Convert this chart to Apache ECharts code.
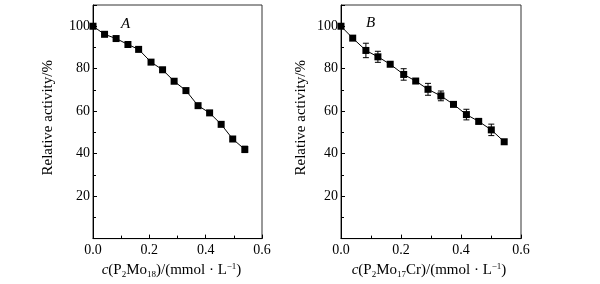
<!DOCTYPE html>
<html>
<head>
<meta charset="utf-8">
<script src="https://cdn.jsdelivr.net/npm/echarts@6/dist/echarts.min.js"></script>
<style>
html, body { margin: 0; padding: 0; background: #fff; }
#chart { width: 600px; height: 284px; }
</style>
</head>
<body>
<div id="chart"></div>
<script>
// panel A: P2Mo18
var xA = [0, 0.041, 0.082, 0.124, 0.162, 0.206, 0.247, 0.288, 0.330, 0.373, 0.414, 0.455, 0.496, 0.539];
var yA = [100, 96.2, 94.2, 91.4, 89.1, 83.1, 79.5, 74.1, 69.7, 62.6, 59.2, 53.8, 46.9, 42.0];
var errA = [0, 0, 0, 0, 0, 0, 0, 0, 0, 0, 0, 0, 0, 1.5];
// panel B: P2Mo17Cr
var xB = [0, 0.039, 0.083, 0.123, 0.164, 0.209, 0.249, 0.290, 0.333, 0.375, 0.418, 0.459, 0.501, 0.544];
var yB = [100, 94.4, 88.6, 85.6, 82.1, 77.3, 74.2, 70.3, 67.2, 63.2, 58.4, 55.2, 51.2, 45.6];
var errB = [0, 0, 3.4, 2.6, 0, 2.7, 0, 2.8, 2.3, 0, 2.5, 1.2, 2.7, 0];

var yTicks = [20, 40, 60, 80, 100];
var xTicks = [0, 0.2, 0.4, 0.6];

var chart = echarts.init(document.getElementById('chart'));
var font = 'Liberation Serif';

function pairs(xs, ys) {
    return xs.map(function(x, i) { return [x, ys[i]]; });
}
function errData(xs, ys, es) {
    return xs.map(function(x, i) { return [x, ys[i], es[i]]; });
}

function errItem(params, api) {
    var e = api.value(2);
    if (!e) return null;
    var x = api.value(0), y = api.value(1);
    var hi = api.coord([x, y + e]);
    var lo = api.coord([x, y - e]);
    var w = 3;
    var st = { stroke: '#000', lineWidth: 1 };
    return {
        type: 'group',
        children: [
            { type: 'line', shape: { x1: hi[0], y1: hi[1], x2: lo[0], y2: lo[1] }, style: st },
            { type: 'line', shape: { x1: hi[0] - w, y1: hi[1], x2: hi[0] + w, y2: hi[1] }, style: st },
            { type: 'line', shape: { x1: lo[0] - w, y1: lo[1], x2: lo[0] + w, y2: lo[1] }, style: st }
        ]
    };
}

function xAxisOf(idx, name, pad) {
    return {
        type: 'value', gridIndex: idx, min: 0, max: 0.6, interval: 0.2,
        name: name, nameLocation: 'middle', nameGap: 20,
        nameTextStyle: {
            fontFamily: font, fontSize: 15, color: '#000', padding: pad,
            rich: {
                i: { fontFamily: font, fontSize: 15, fontStyle: 'italic', color: '#000' },
                n: { fontFamily: font, fontSize: 15, color: '#000' },
                sub: { fontFamily: font, fontSize: 9, color: '#000', padding: [8, 0, 0, 0] },
                sup: { fontFamily: font, fontSize: 9, color: '#000', padding: [0, 0, 7, 0] }
            }
        },
        axisLine: { onZero: false, lineStyle: { color: '#000', width: 1 } },
        axisTick: { inside: true, length: 4, lineStyle: { color: '#000' } },
        minorTick: { show: true, splitNumber: 2, length: 3, lineStyle: { color: '#000' } },
        splitLine: { show: false },
        axisLabel: {
            fontFamily: font, fontSize: 14, color: '#000', margin: 5,
            formatter: function(v) {
                return xTicks.some(function(t) { return Math.abs(t - v) < 1e-9; }) ? v.toFixed(1) : '';
            }
        }
    };
}

function yAxisOf(idx, gap) {
    return {
        type: 'value', gridIndex: idx, min: 0, max: 110, interval: 20,
        name: 'Relative activity/%', nameLocation: 'middle', nameGap: gap,
        nameTextStyle: { fontFamily: font, fontSize: 15, color: '#000', padding: [0, 0, 0, 8] },
        axisLine: { onZero: false, lineStyle: { color: '#000', width: 1 } },
        axisTick: { inside: true, length: 4, lineStyle: { color: '#000' } },
        minorTick: { show: true, splitNumber: 2, length: 3, lineStyle: { color: '#000' } },
        splitLine: { show: false },
        axisLabel: {
            fontFamily: font, fontSize: 14, color: '#000', margin: 3,
            showMaxLabel: false,
            formatter: function(v) { return yTicks.indexOf(v) >= 0 ? String(v) : ''; }
        }
    };
}

var option = {
    animation: false,
    backgroundColor: '#fff',
    grid: [
        { left: 93, right: 338, top: 5, bottom: 42, show: true, borderColor: '#333', borderWidth: 1 },
        { left: 341, right: 79, top: 5, bottom: 42, show: true, borderColor: '#333', borderWidth: 1 }
    ],
    xAxis: [
        xAxisOf(0, '{i|c}{n|(P}{sub|2}{n|Mo}{sub|18}{n|)/(mmol · L}{sup|−1}{n|)}', [0, 12, 0, 0]),
        xAxisOf(1, '{i|c}{n|(P}{sub|2}{n|Mo}{sub|17}{n|Cr)/(mmol · L}{sup|−1}{n|)}', [0, 4, 0, 0])
    ],
    yAxis: [yAxisOf(0, 37), yAxisOf(1, 32)],
    graphic: [
        { type: 'text', left: 121, top: 17, style: { text: 'A', font: 'italic 15px "Liberation Serif"', fill: '#000' } },
        { type: 'text', left: 366, top: 16, style: { text: 'B', font: 'italic 15px "Liberation Serif"', fill: '#000' } }
    ],
    series: [
        {
            type: 'line', xAxisIndex: 0, yAxisIndex: 0, data: pairs(xA, yA),
            symbol: 'rect', symbolSize: 7,
            lineStyle: { color: '#000', width: 1 }, itemStyle: { color: '#000' }
        },
        {
            type: 'custom', xAxisIndex: 0, yAxisIndex: 0, data: errData(xA, yA, errA),
            renderItem: errItem, z: 3
        },
        {
            type: 'line', xAxisIndex: 1, yAxisIndex: 1, data: pairs(xB, yB),
            symbol: 'rect', symbolSize: 7,
            lineStyle: { color: '#000', width: 1 }, itemStyle: { color: '#000' }
        },
        {
            type: 'custom', xAxisIndex: 1, yAxisIndex: 1, data: errData(xB, yB, errB),
            renderItem: errItem, z: 3
        }
    ]
};
chart.setOption(option);
</script>
</body>
</html>
